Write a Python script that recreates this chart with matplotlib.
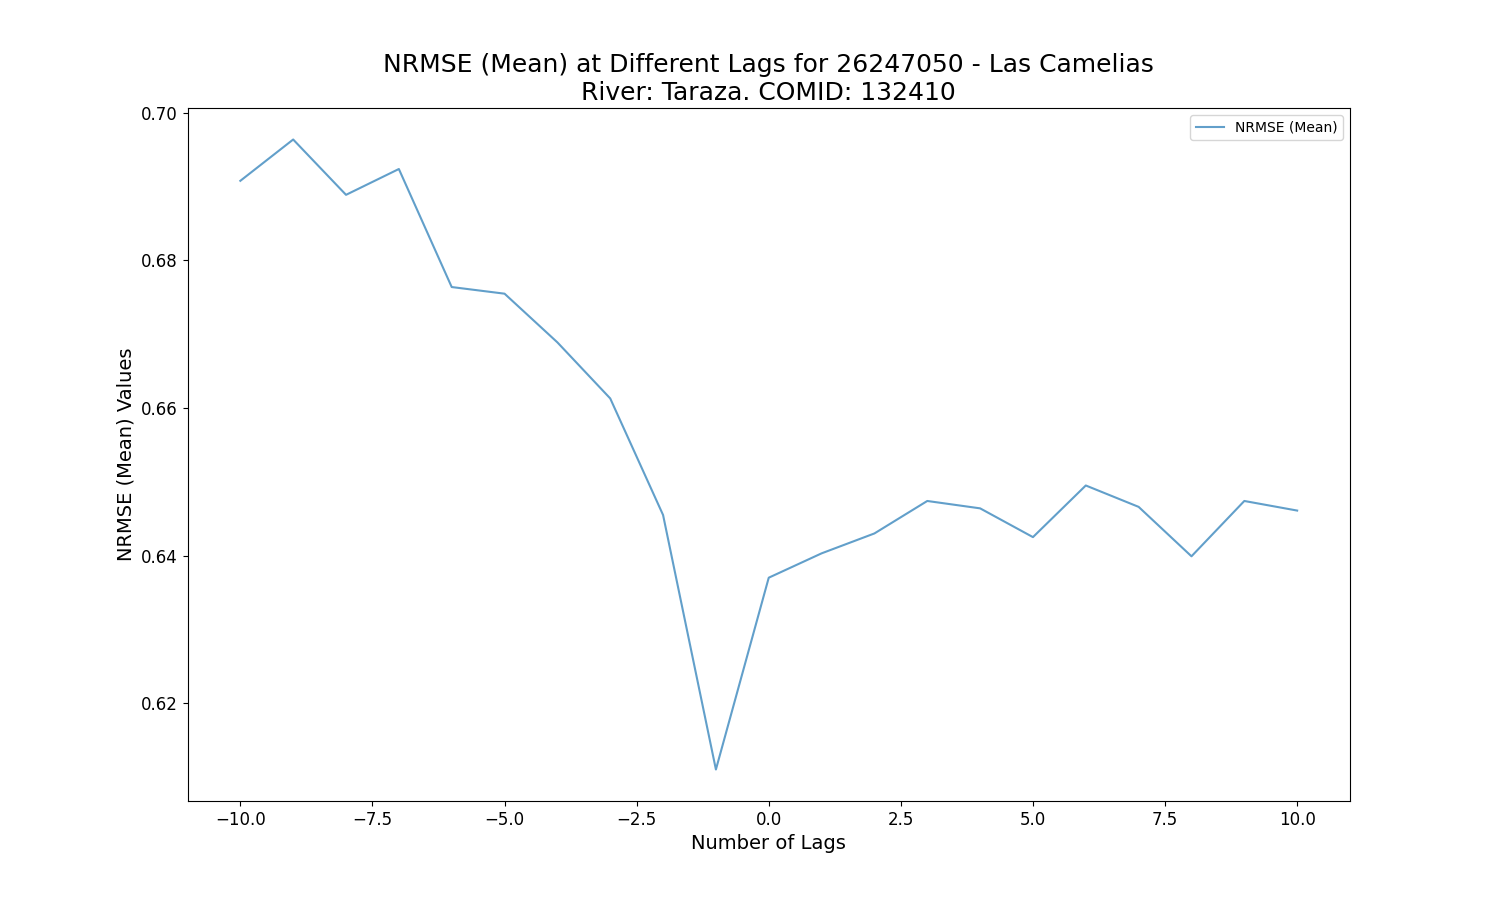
# NRMSE (Mean) vs lag for station 26247050

import numpy as np
import matplotlib
matplotlib.use("Agg")
import matplotlib.pyplot as plt

# lags and values
lags = np.arange(-10, 11, 1)
nrmse_mean = [0.6908, 0.6964, 0.6889, 0.6924, 0.6764, 0.6755, 0.6689,
              0.6613, 0.6455, 0.6110, 0.6370, 0.6403, 0.6430, 0.6474,
              0.6464, 0.6425, 0.6495, 0.6466, 0.6399, 0.6474, 0.6461]

fig, ax = plt.subplots(figsize=(15, 9), dpi=100)

ax.plot(lags, nrmse_mean, color="tab:blue", alpha=0.7, linewidth=1.5,
        label="NRMSE (Mean)")

ax.set_title("NRMSE (Mean) at Different Lags for 26247050 - Las Camelias\n"
             "River: Taraza. COMID: 132410", fontsize=18)
ax.set_xlabel("Number of Lags", fontsize=14)
ax.set_ylabel("NRMSE (Mean) Values", fontsize=14)
ax.tick_params(axis="both", labelsize=12)
ax.legend(loc="upper right")

fig.savefig("out.png")
